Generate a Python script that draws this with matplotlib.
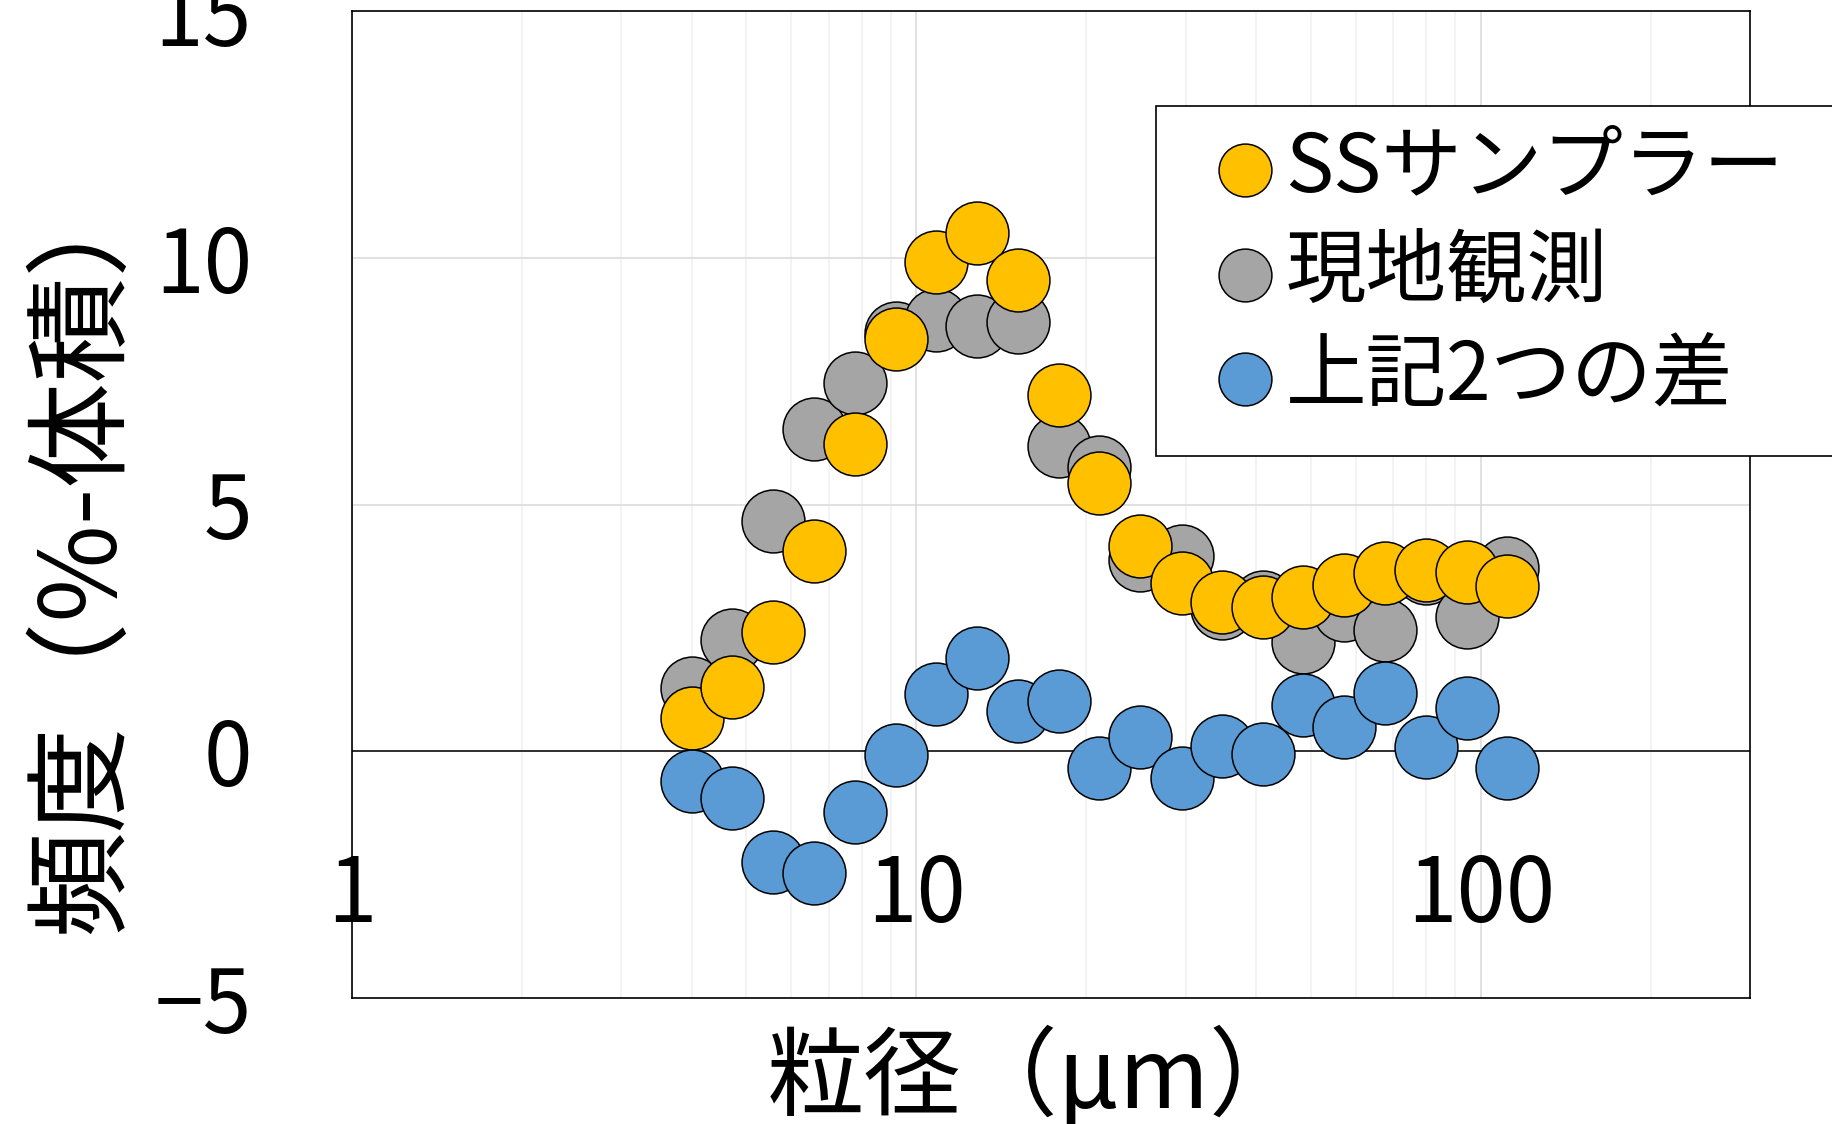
import matplotlib.pyplot as plt
from matplotlib.patches import Rectangle

plt.rcParams['font.family'] = ['Noto Sans CJK JP', 'DejaVu Sans']

# particle size bins (um)
size_um = [4.0, 4.72, 5.58, 6.59, 7.78, 9.19, 10.85, 12.82, 15.14, 17.88, 21.1,
           24.9, 29.5, 34.8, 41.1, 48.5, 57.3, 67.7, 79.9, 94.4, 111.5]
ss_sampler = [0.67, 1.30, 2.42, 4.05, 6.23, 8.36, 9.91, 10.50, 9.54, 7.21, 5.44,
              4.16, 3.41, 3.02, 2.93, 3.13, 3.37, 3.62, 3.68, 3.63, 3.35]
field_obs = [1.28, 2.26, 4.66, 6.52, 7.46, 8.48, 8.73, 8.62, 8.69, 6.19, 5.77,
             3.88, 3.96, 2.90, 3.02, 2.21, 2.87, 2.45, 3.61, 2.73, 3.71]
diff = [-0.60, -0.95, -2.25, -2.46, -1.23, -0.08, 1.15, 1.89, 0.82, 1.02, -0.34,
        0.28, -0.54, 0.11, -0.06, 0.93, 0.50, 1.18, 0.08, 0.88, -0.34]

names = ['SSサンプラー', '現地観測', '上記2つの差']
colors = ['#FFC000', '#A5A5A5', '#5B9BD5']

xticks = [1, 10, 100]
xticklabels = ['1', '10', '100']
yticks = [-5, 0, 5, 10, 15]

fig = plt.figure(figsize=(18.33, 11.24), dpi=100)
ax = fig.add_axes([352/1833, 1-998/1124, (1750-352)/1833, (998-11)/1124])
ax.set_axisbelow(True)

ms = 2050
h_obs = ax.scatter(size_um, field_obs, s=ms, c=colors[1], edgecolors='black', linewidths=1.1, zorder=3)
h_ss = ax.scatter(size_um, ss_sampler, s=ms, c=colors[0], edgecolors='black', linewidths=1.1, zorder=4)
h_diff = ax.scatter(size_um, diff, s=ms, c=colors[2], edgecolors='black', linewidths=1.1, zorder=5)

ax.set_xscale('log')
ax.set_xlim(1, 300)
ax.set_ylim(-5, 15)
ax.set_yticks(yticks)
ax.set_xticks(xticks)
ax.set_xticklabels([])
ax.tick_params(axis='both', which='both', length=0)
ax.tick_params(axis='y', labelsize=63, pad=72)
ax.minorticks_on()
ax.yaxis.set_minor_locator(plt.NullLocator())

ax.grid(axis='y', which='major', color='#D9D9D9', lw=1.1)
ax.grid(axis='x', which='major', color='#D9D9D9', lw=1.1)
ax.grid(axis='x', which='minor', color='#F0F0F0', lw=1.1)
ax.axhline(0, color='black', lw=1.1, zorder=2)
for sp in ax.spines.values():
    sp.set_linewidth(1.2)

for v, t in zip(xticks, xticklabels):
    ax.text(v, -3.47, t, ha='center', va='baseline', fontsize=64, clip_on=False)

fig.text(0.045, 0.51, '頻度（%-体積）', rotation=90, ha='center', va='center', fontsize=76)
fig.text(0.418, 0.0145, '粒径（μm）', ha='left', va='baseline', fontsize=70)

# legend frame runs off the right edge
fig.patches.append(Rectangle((1156/1833, 1-456/1124), 0.7, 350/1124, transform=fig.transFigure,
                             facecolor='white', edgecolor='black', lw=1.2, zorder=6))
leg = fig.legend([h_ss, h_obs, h_diff], names, loc='upper left', bbox_to_anchor=(1213/1833, 1-127/1124),
                 frameon=False, fontsize=58, markerscale=0.84, handlelength=0.8, handletextpad=0.1,
                 borderpad=0, borderaxespad=0, labelspacing=0.27)
leg.set_zorder(7)

fig.savefig('out.png', dpi=100)
